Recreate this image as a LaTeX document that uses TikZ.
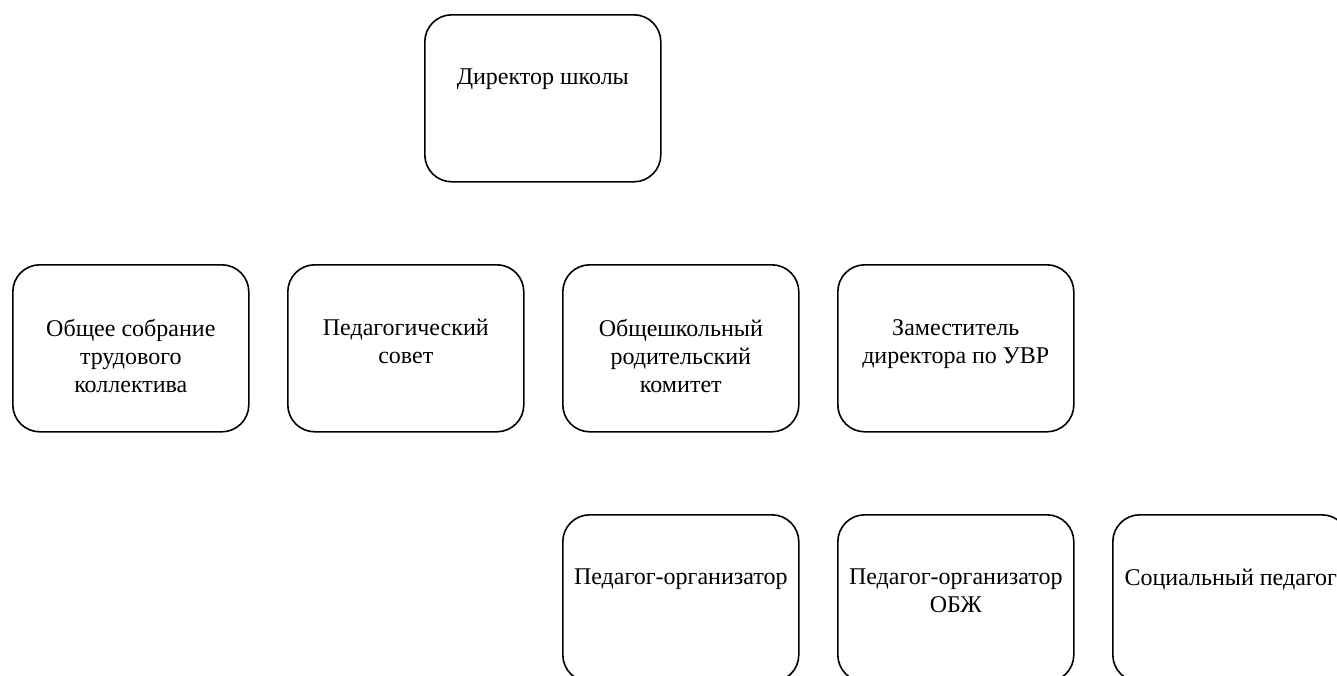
\documentclass[tikz,border=0pt]{standalone}
\usepackage{fontspec}
\setmainfont{Liberation Serif}
\begin{document}
\begin{tikzpicture}[x=1pt,y=-1pt,
  orgbox/.style={draw=black, line width=1.6pt, rounded corners=27pt, minimum width=236pt, minimum height=167pt, inner sep=0pt, anchor=north west},
  orgtext/.style={anchor=north, align=center, inner sep=0pt, font=\fontsize{24}{28}\selectfont}]
\useasboundingbox (0,0) rectangle (1337,675);
\clip (0,0) rectangle (1337,675);
\node[orgbox] (dir) at (424,14) {};
\node[orgtext] (tdir) at ([yshift=-55pt]dir.north) {Директор школы};
\node[orgbox] (obs) at (12,264) {};
\node[orgtext] (tobs) at ([yshift=-55pt]obs.north) {Общее собрание\\трудового\\коллектива};
\node[orgbox] (ped) at (287,264) {};
\node[orgtext] (tped) at ([yshift=-55pt]ped.north) {Педагогический\\совет};
\node[orgbox] (rod) at (562,264) {};
\node[orgtext] (trod) at ([yshift=-55pt]rod.north) {Общешкольный\\родительский\\комитет};
\node[orgbox] (zam) at (837,264) {};
\node[orgtext] (tzam) at ([yshift=-55pt]zam.north) {Заместитель\\директора по УВР};
\node[orgbox] (org) at (562,514) {};
\node[orgtext] (torg) at ([yshift=-55pt]org.north) {Педагог-организатор};
\node[orgbox] (obzh) at (837,514) {};
\node[orgtext] (tobzh) at ([yshift=-55pt]obzh.north) {Педагог-организатор\\ОБЖ};
\node[orgbox] (soc) at (1112,514) {};
\node[orgtext] (tsoc) at ([yshift=-55pt]soc.north) {Социальный педагог};
\end{tikzpicture}
\end{document}
